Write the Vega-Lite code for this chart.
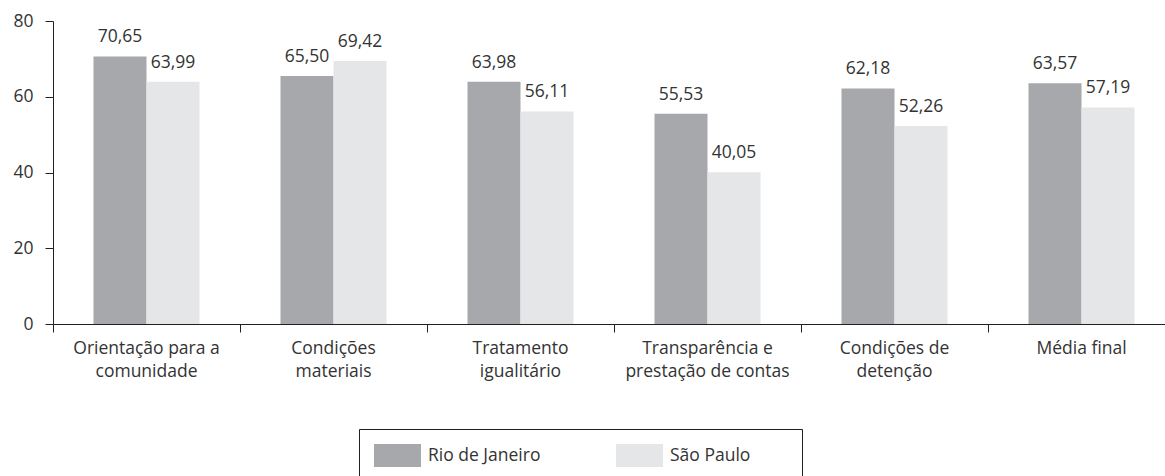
{
  "$schema": "https://vega.github.io/schema/vega-lite/v6.json",
  "width": 1122,
  "height": 303,
  "autosize": "none",
  "padding": {"left": 53, "top": 21, "right": -10, "bottom": 152},
  "background": "white",
  "config": {
    "font": "Open Sans",
    "view": {"stroke": null},
    "axis": {"labelFont": "Open Sans", "labelFontSize": 17.5, "labelColor": "#333333", "domainColor": "#231f20", "tickColor": "#231f20", "tickSize": 8, "grid": false, "title": null}
  },
  "data": {
    "values": [
      {"cat": "Orientação para a\ncomunidade", "series": "Rio de Janeiro", "value": 70.65, "label": "70,65"},
      {"cat": "Orientação para a\ncomunidade", "series": "São Paulo", "value": 63.99, "label": "63,99"},
      {"cat": "Condições\nmateriais", "series": "Rio de Janeiro", "value": 65.50, "label": "65,50"},
      {"cat": "Condições\nmateriais", "series": "São Paulo", "value": 69.42, "label": "69,42"},
      {"cat": "Tratamento\nigualitário", "series": "Rio de Janeiro", "value": 63.98, "label": "63,98"},
      {"cat": "Tratamento\nigualitário", "series": "São Paulo", "value": 56.11, "label": "56,11"},
      {"cat": "Transparência e\nprestação de contas", "series": "Rio de Janeiro", "value": 55.53, "label": "55,53"},
      {"cat": "Transparência e\nprestação de contas", "series": "São Paulo", "value": 40.05, "label": "40,05"},
      {"cat": "Condições de\ndetenção", "series": "Rio de Janeiro", "value": 62.18, "label": "62,18"},
      {"cat": "Condições de\ndetenção", "series": "São Paulo", "value": 52.26, "label": "52,26"},
      {"cat": "Média final", "series": "Rio de Janeiro", "value": 63.57, "label": "63,57"},
      {"cat": "Média final", "series": "São Paulo", "value": 57.19, "label": "57,19"}
    ]
  },
  "encoding": {
    "x": {
      "field": "cat", "type": "nominal", "sort": null,
      "scale": {"paddingInner": 0, "paddingOuter": 0},
      "axis": {"bandPosition": 0, "labelAngle": 0, "labelPadding": 7, "labelLineHeight": 23, "labelBaseline": "top", "labelAlign": "center", "labelExpr": "split(datum.label, '\\n')", "labelLimit": 300}
    },
    "xOffset": {"field": "series", "type": "nominal", "sort": ["Rio de Janeiro", "São Paulo"], "scale": {"paddingOuter": 0.764, "paddingInner": 0}},
    "y": {
      "field": "value", "type": "quantitative",
      "scale": {"domain": [0, 80], "nice": false},
      "axis": {"values": [0, 20, 40, 60, 80], "labelPadding": 12}
    }
  },
  "layer": [
    {
      "mark": {"type": "bar"},
      "encoding": {
        "color": {
          "field": "series", "type": "nominal", "sort": ["Rio de Janeiro", "São Paulo"],
          "scale": {"range": ["#a7a8ab", "#e5e6e8"]},
          "legend": {
            "title": "\u00a0", "titleOrient": "right", "titlePadding": 37, "titleFontSize": 17.5,
            "orient": "none", "legendX": 306, "legendY": 408,
            "direction": "horizontal", "columns": 2, "columnPadding": 75,
            "symbolType": "M-1,-1H3.087V1H-1Z", "symbolSize": 529, "symbolStrokeWidth": 0, "symbolOpacity": 1,
            "labelFont": "Open Sans", "labelFontSize": 17.5, "labelColor": "#333333", "labelOffset": 31,
            "padding": 15, "strokeColor": "#231f20"
          }
        }
      }
    },
    {
      "mark": {"type": "text", "dy": -14, "baseline": "alphabetic", "fontSize": 17.5, "color": "#333333", "font": "Open Sans"},
      "encoding": {
        "text": {"field": "label", "type": "nominal"}
      }
    }
  ]
}
